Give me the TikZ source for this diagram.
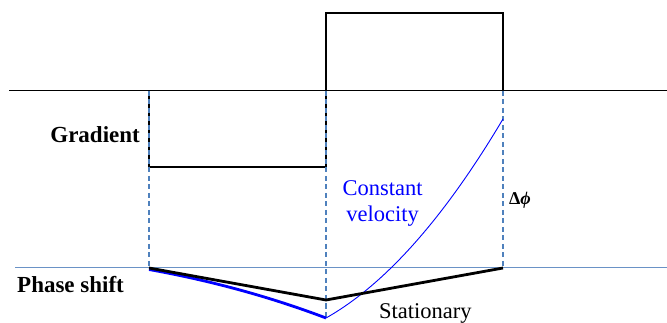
\documentclass[tikz,border=0pt]{standalone}
\usepackage{fontspec}
\setmainfont{Liberation Serif}
\definecolor{guideblue}{HTML}{4F81BD}
\definecolor{baseblue}{HTML}{6A92C6}
\begin{document}
\begin{tikzpicture}[x=1pt,y=-1pt,
  grad/.style={draw=black,line width=1.4pt},
  guide/.style={draw=guideblue,dash pattern=on 5pt off 3.5pt,line width=1.1pt},
  base/.style={draw=baseblue,line width=1pt},
  lbl/.style={font=\fontsize{23}{25}\selectfont\bfseries,inner sep=0pt},
  txt/.style={font=\fontsize{22.5}{26}\selectfont,inner sep=0pt,align=center}]
\useasboundingbox (0,0) rectangle (667,323);
% coordinates
\coordinate (gl) at (9,91);
\coordinate (gr) at (667,91);
\coordinate (pl) at (15,268);
\coordinate (pr) at (667,268);
\coordinate (a0) at (149,91);
\coordinate (a1) at (326,91);
\coordinate (a2) at (503,91);
\coordinate (b0) at (149,268);
\coordinate (b1) at (326,318);
\coordinate (b2) at (503,268);
\coordinate (s1) at (326,300);
\coordinate (c2) at (503,119);
% gradient
\draw[line width=1pt] (gl) -- (gr);
\draw[grad] (a0) -- (149,167) -- (326,167) -- (a1);
\draw[grad] (a1) -- (326,13) -- (503,13) -- (a2);
% phase baseline
\draw[base] (pl) -- (pr);
% guides
\draw[guide] (a0) -- (b0);
\draw[guide] (a1) -- (b1);
\draw[guide] (a2) -- (b2);
% constant velocity
\draw[blue,line width=2.8pt] (149,269.5) .. controls (207.9,280.1) and (266.9,295.6) .. (b1);
\draw[blue,line width=0.9pt] (b1) .. controls (385,284.7) and (444,218.3) .. (c2);
% stationary
\draw[line width=2.8pt,line join=miter] (b0) -- (s1) -- (b2);
% labels
\node[lbl,anchor=base east] (g) at (140,143) {Gradient};
\node[lbl,anchor=base west] (p) at (17,293) {Phase shift};
\node[txt,text=blue,anchor=north] (cv) at (382.5,180) {Constant\\velocity};
\node[font=\fontsize{18}{20}\selectfont\bfseries,inner sep=0pt,anchor=base west] (dp) at (509,205) {Δ\textit{ϕ}};
\node[txt,anchor=base west] (st) at (379,318) {Stationary};
\end{tikzpicture}
\end{document}
